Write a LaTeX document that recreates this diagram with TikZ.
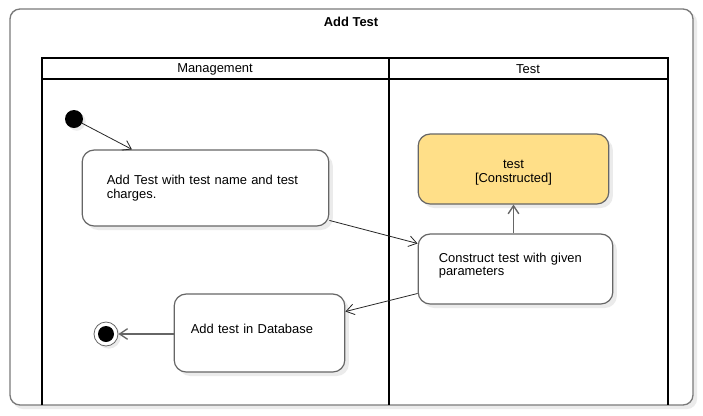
\documentclass[tikz,border=0pt]{standalone}
\usepackage{fontspec}
\setmainfont{Liberation Sans}
\usetikzlibrary{arrows.meta,shadows}
\definecolor{boxline}{HTML}{666666}
\definecolor{frameline}{HTML}{7A7A7A}
\definecolor{shadowc}{HTML}{EBEBEB}
\definecolor{yel}{HTML}{FFDF88}
\begin{document}
\begin{tikzpicture}[x=0.75pt,y=-0.75pt,
  font=\fontsize{9.7pt}{10.4pt}\selectfont,
  act/.style={draw=boxline, line width=0.9pt, rounded corners=9pt, fill=white,
    drop shadow={shadow xshift=3pt, shadow yshift=-3pt, fill=shadowc, opacity=1}},
  lane/.style={draw=black, line width=1.5pt},
  conn/.style={draw=black!85, line width=0.6pt, -{Straight Barb[length=6pt,width=8pt]}},
  connb/.style={draw=boxline, line width=1pt, -{Straight Barb[length=6pt,width=8pt]}}]
\useasboundingbox (0,0) rectangle (703,415);
\fill[white] (0,0) rectangle (703,415);
% outer frame
\fill[shadowc, rounded corners=7.5pt] (13,12) rectangle (697,409);
\draw[frameline, fill=white, line width=1pt, rounded corners=7.5pt] (10,9) rectangle (693,405);
\node[font=\fontsize{9.7pt}{10.4pt}\selectfont\bfseries] (title) at (351,22) {Add Test};
% swimlanes
\draw[lane] (42,405) -- (42,58) -- (668,58) -- (668,405);
\draw[lane] (42,79) -- (668,79);
\draw[lane] (389,58) -- (389,405);
\node (lmgmt) at (215,69) {Management};
\node (ltest) at (528,69) {Test};
% nodes
\node[circle, fill=black, minimum size=13.5pt, inner sep=0pt,
  drop shadow={shadow xshift=2pt, shadow yshift=-2pt, fill=shadowc, opacity=1}] (init) at (74,119) {};
\node[act, minimum width=185pt, minimum height=57pt, text width=148pt, inner xsep=18.5pt, align=left]
  (A) at (205.5,188) {Add Test with test name and test\\charges.};
\node[act, fill=yel, minimum width=143pt, minimum height=52.5pt, align=center]
  (T) at (513.5,169) {\rule{0pt}{12pt}test\\{}[Constructed]};
\node[act, minimum width=146pt, minimum height=52.5pt, text width=115pt, inner xsep=15.5pt, align=left]
  (C) at (515.5,269) {Construct test with given\\parameters\rule[-7pt]{0pt}{1pt}};
\node[act, minimum width=128pt, minimum height=58.5pt, text width=103pt, inner xsep=12.5pt, align=left]
  (D) at (259.5,333) {Add test in Database\rule[-6pt]{0pt}{1pt}};
\node[circle, draw=boxline, fill=white, line width=0.6pt, minimum size=18pt, inner sep=0pt,
  drop shadow={shadow xshift=2pt, shadow yshift=-2pt, fill=shadowc, opacity=1}] (fin) at (106,334) {};
\node[circle, fill=black, minimum size=12pt, inner sep=0pt] (finin) at (fin) {};
% connectors
\draw[conn] (init) -- (A);
\draw[conn] (A) -- (C);
\draw[conn] (C) -- (D);
\draw[connb] (D.west |- fin) -- (fin);
\draw[connb] (C.north -| T.south) -- (T.south);
\end{tikzpicture}
\end{document}
